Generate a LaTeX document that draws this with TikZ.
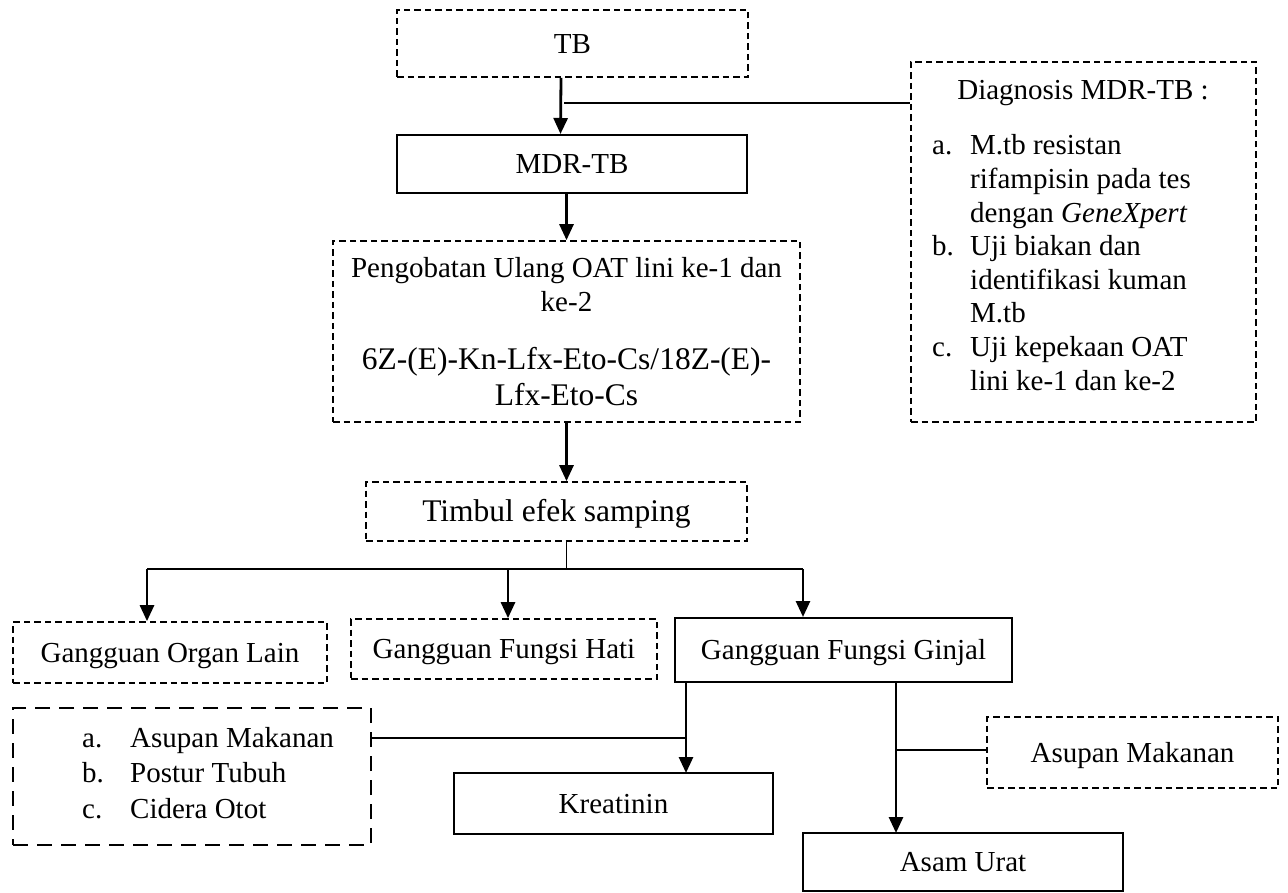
\documentclass[tikz,border=0pt]{standalone}
\usepackage{fontspec}
\setmainfont{Liberation Serif}
\usetikzlibrary{arrows.meta}
\begin{document}
\begin{tikzpicture}[x=1pt,y=-1pt,
  every node/.style={font=\fontsize{29}{33.6}\selectfont, inner sep=0pt, text height=26.1pt, text depth=7pt},
  big/.style={font=\fontsize{31.5}{36}\selectfont, text height=28.4pt, text depth=7.6pt},
  dbox/.style={draw, line width=1.7pt, dash pattern=on 6.5pt off 4pt},
  ldbox/.style={draw, line width=2.8pt, dash pattern=on 15pt off 9pt},
  sbox/.style={draw, line width=2pt},
  arr/.style={line width=2.8pt, -{Triangle[length=16pt,width=14pt]}},
  thinl/.style={line width=1.5pt},
  bw/.style={anchor=base west},
  bc/.style={anchor=base}]
\useasboundingbox (0,0) rectangle (1288,893);

% boxes
\node[dbox, minimum width=351pt, minimum height=67pt] (tb) at (572.5,43.5) {TB};
\node[sbox, minimum width=350pt, minimum height=58pt] (mdr) at (572,164) {MDR-TB};
\node[dbox, minimum width=467pt, minimum height=181pt] (peng) at (566.5,331.5) {};
\node[dbox, minimum width=345pt, minimum height=360pt] (diag) at (1083.5,242) {};
\node[dbox, big, minimum width=381pt, minimum height=59pt] (timbul) at (556.5,511.5) {Timbul efek samping};
\node[dbox, minimum width=314pt, minimum height=61pt] (organ) at (170,652.5) {Gangguan Organ Lain};
\node[dbox, minimum width=306pt, minimum height=60pt] (hati) at (504,649) {Gangguan Fungsi Hati};
\node[sbox, minimum width=337pt, minimum height=64pt] (ginjal) at (843.5,650) {Gangguan Fungsi Ginjal};
\node[ldbox, minimum width=358pt, minimum height=137pt] (list) at (192,776.5) {};
\node[sbox, minimum width=319pt, minimum height=61pt] (kreat) at (613.5,803.5) {Kreatinin};
\node[dbox, minimum width=291pt, minimum height=71pt] (asupan) at (1132.5,752.5) {Asupan Makanan};
\node[sbox, minimum width=320pt, minimum height=58pt] (asam) at (963,862) {Asam Urat};

% texts of Pengobatan box
\node[bc] (p1) at (566.5,278) {Pengobatan Ulang OAT lini ke-1 dan};
\node[bc] (p2) at (566.5,312) {ke-2};
\node[bc, big] (p3) at (566.5,370) {6Z-(E)-Kn-Lfx-Eto-Cs/18Z-(E)-};
\node[bc, big] (p4) at (566.5,405) {Lfx-Eto-Cs};

% texts of Diagnosis box
\node[bc] (d0) at (1083,100) {Diagnosis MDR-TB :};
\node[bw] (da) at (932,155) {a.};
\node[bw] (da1) at (970,155) {M.tb resistan};
\node[bw] (da2) at (970,188.6) {rifampisin pada tes};
\node[bw] (da3) at (970,222.2) {dengan \textit{GeneXpert}};
\node[bw] (db) at (932,255.8) {b.};
\node[bw] (db1) at (970,255.8) {Uji biakan dan};
\node[bw] (db2) at (970,289.4) {identifikasi kuman};
\node[bw] (db3) at (970,323) {M.tb};
\node[bw] (dc) at (932,356.6) {c.};
\node[bw] (dc1) at (970,356.6) {Uji kepekaan OAT};
\node[bw] (dc2) at (970,390.2) {lini ke-1 dan ke-2};

% texts of left list box
\node[bw] (la) at (82,747) {a.};
\node[bw] (la1) at (130,747) {Asupan Makanan};
\node[bw] (lb) at (82,782.5) {b.};
\node[bw] (lb1) at (130,782.5) {Postur Tubuh};
\node[bw] (lc) at (82,818) {c.};
\node[bw] (lc1) at (130,818) {Cidera Otot};

% connectors
\draw[arr] ([xshift=-11.5pt]tb.south) -- ([xshift=-11.5pt]mdr.north);
\coordinate (j1) at (564,103);
\draw[thinl] (j1) -- (j1 -| diag.west);
\draw[arr] (mdr.south -| peng.north) -- (peng.north);
\draw[arr] (peng.south) -- (peng.south |- timbul.north);

\coordinate (bar) at (566.5,569);
\coordinate (bl) at (147,569);
\coordinate (bm) at (508,569);
\coordinate (br) at (803,569);
\draw[thinl] (bar |- timbul.south) -- (bar);
\draw[thinl] (bl) -- (br);
\draw[arr] (bl) -- (bl |- organ.north);
\draw[arr] (bm) -- (bm |- hati.north);
\draw[arr] (br) -- (br |- ginjal.north);

\coordinate (kx) at (686,773);
\coordinate (lk) at (686,738);
\draw[arr] (kx |- ginjal.south) -- (kx);
\draw[thinl] (list.east |- lk) -- (lk);

\coordinate (ax) at (896,833);
\coordinate (aj) at (896,750);
\draw[arr] (ax |- ginjal.south) -- (ax);
\draw[thinl] (aj) -- (aj -| asupan.west);
\end{tikzpicture}
\end{document}
